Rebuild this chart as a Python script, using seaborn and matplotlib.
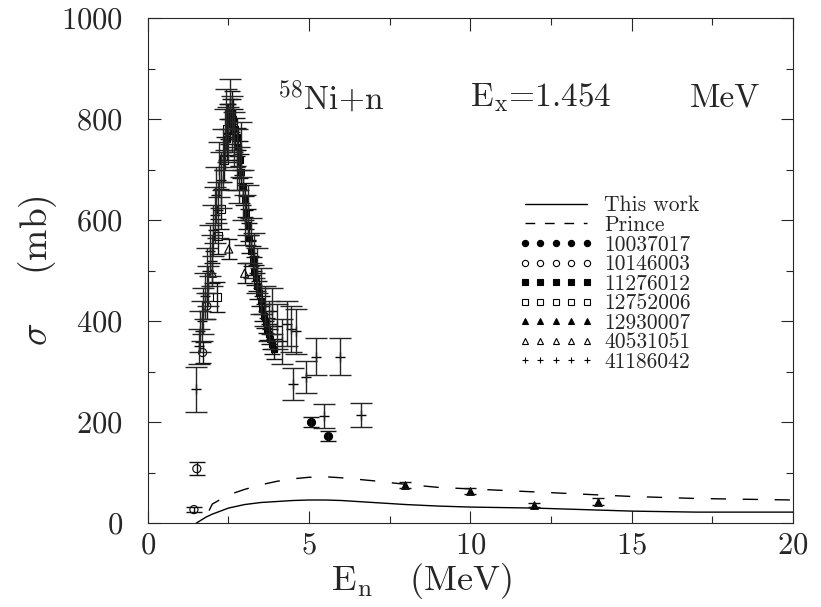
import numpy as np
import pandas as pd
import seaborn as sns
import matplotlib.pyplot as plt
from matplotlib.lines import Line2D
from matplotlib.ticker import MultipleLocator

# theory curves
this_work_e = [1.5, 1.8, 2.0, 2.5, 3.0, 3.5, 4.0, 4.5, 5.0, 5.5, 6.0, 7.0, 8.0, 9.0,
               10.0, 11.0, 12.0, 13.0, 14.0, 15.0, 16.0, 17.0, 18.0, 19.0, 20.0]
this_work_s = [0, 12, 18, 30, 37, 41, 43, 45, 46, 46, 45, 41, 37, 34,
               32, 31, 30, 28, 26, 24, 23, 22, 22, 22, 22]
prince_e = [1.9, 2.0, 2.5, 3.0, 3.5, 4.0, 4.5, 5.0, 5.5, 6.0, 7.0, 8.0, 9.0,
            10.0, 11.0, 12.0, 13.0, 14.0, 15.0, 16.0, 17.0, 18.0, 19.0, 20.0]
prince_s = [25, 38, 56, 67, 76, 83, 88, 91, 92, 90, 84, 77, 71,
            68, 65, 62, 59, 56, 53, 51, 49, 48, 47, 46]

# experimental sets (EXFOR entries)
e_10037017 = [5.05, 5.6]
s_10037017 = [201, 172]
d_10037017 = [10, 10]

e_10146003 = [1.43, 1.52, 1.70, 1.83]
s_10146003 = [27, 108, 338, 430]
d_10146003 = [5, 13, 20, 25]

e_11276012 = [2.45, 2.50, 2.55, 2.60, 2.65, 2.70, 2.75, 2.80, 2.85, 2.90, 2.95, 3.00,
              3.05, 3.10, 3.15, 3.20, 3.25, 3.30, 3.35, 3.40, 3.45, 3.50, 3.55, 3.60,
              3.65, 3.70, 3.75, 3.80, 3.85, 3.90]
s_11276012 = [760, 790, 800, 815, 800, 780, 765, 745, 720, 695, 665, 640,
              615, 590, 565, 540, 520, 500, 485, 470, 455, 440, 425, 410,
              398, 385, 375, 365, 355, 345]
d_11276012 = [40, 40, 40, 40, 40, 40, 38, 38, 36, 36, 34, 34,
              32, 32, 30, 30, 28, 28, 26, 26, 25, 25, 24, 24,
              22, 22, 20, 20, 20, 20]

e_12752006 = [2.14, 2.17, 2.26, 2.35, 2.45]
s_12752006 = [448, 568, 622, 720, 780]
d_12752006 = [30, 35, 40, 45, 50]

e_12930007 = [7.97, 10.0, 11.97, 13.95]
s_12930007 = [75, 63, 37, 43]
d_12930007 = [6, 6, 4, 6]

e_40531051 = [2.0, 2.51, 3.0]
s_40531051 = [495, 543, 495]
d_40531051 = [20, 20, 20]

e_41186042 = [1.49, 1.58, 1.62, 1.68, 1.72, 1.78, 1.82, 1.88, 1.92, 1.98, 2.02, 2.08,
              2.12, 2.18, 2.22, 2.28, 2.32, 2.38, 2.42, 2.48, 2.55, 2.62, 2.68, 2.75,
              2.82, 2.88, 2.95, 3.02, 3.10, 3.20, 3.30, 3.40, 3.50, 3.62, 3.75, 3.85,
              4.00, 4.15, 4.30, 4.45, 4.60, 4.50, 4.90, 5.20, 5.95, 5.45, 6.60]
s_41186042 = [265, 350, 380, 400, 420, 450, 500, 470, 540, 520, 580, 610,
              650, 620, 700, 680, 720, 760, 800, 770, 830, 790, 760, 720,
              690, 740, 650, 600, 620, 560, 530, 500, 460, 430, 400, 420,
              390, 360, 395, 385, 380, 276, 290, 330, 330, 213, 215]
d_41186042 = [45, 35, 40, 40, 45, 45, 45, 40, 50, 50, 50, 55,
              55, 55, 55, 55, 60, 60, 60, 55, 50, 55, 55, 60,
              55, 55, 50, 50, 50, 45, 45, 45, 45, 40, 40, 45,
              45, 45, 45, 45, 45, 31, 32, 37, 37, 24, 24]

sets = [
    ("10037017", e_10037017, s_10037017, d_10037017, "o", "k", 6, 34),
    ("10146003", e_10146003, s_10146003, d_10146003, "o", "none", 6, 34),
    ("11276012", e_11276012, s_11276012, d_11276012, "s", "k", 6, 18),
    ("12752006", e_12752006, s_12752006, d_12752006, "s", "none", 6, 34),
    ("12930007", e_12930007, s_12930007, d_12930007, "^", "k", 4, 30),
    ("40531051", e_40531051, s_40531051, d_40531051, "^", "none", 6, 34),
    ("41186042", e_41186042, s_41186042, d_41186042, "+", "k", 8, 50),
]

sns.set_style("ticks")
plt.rcParams["font.family"] = ["cmr10", "DejaVu Serif"]
plt.rcParams["mathtext.fontset"] = "cm"
plt.rcParams["axes.formatter.use_mathtext"] = True
plt.rcParams["axes.unicode_minus"] = False

fig = plt.figure(figsize=(8.21, 6.07), dpi=100)
ax = fig.add_axes([0.180, 0.138, 0.786, 0.832])

sns.lineplot(x=this_work_e, y=this_work_s, ax=ax, color="k", lw=1.0, estimator=None)
sns.lineplot(x=prince_e, y=prince_s, ax=ax, color="k", lw=1.0, estimator=None,
             dashes=False).lines[-1].set_dashes((11, 12))

for name, e, s, d, mk, fc, cap, ms in sets:
    ecol = "#262626" if mk == "+" else "#111111"
    ax.errorbar(e, s, yerr=d, fmt="none", ecolor=ecol, elinewidth=1.0,
                capsize=cap, capthick=1.0)
    df = pd.DataFrame({"E": e, "sigma": s})
    if mk == "+":
        sns.scatterplot(data=df, x="E", y="sigma", ax=ax, marker="+", color="k",
                        s=ms, linewidth=1.0)
    else:
        sns.scatterplot(data=df, x="E", y="sigma", ax=ax, marker=mk,
                        facecolor=fc, edgecolor="k", s=ms, linewidth=0.8)

ax.set_xlim(0, 20)
ax.set_ylim(0, 1000)
ax.xaxis.set_major_locator(MultipleLocator(5))
ax.xaxis.set_minor_locator(MultipleLocator(2.5))
ax.yaxis.set_major_locator(MultipleLocator(200))
ax.yaxis.set_minor_locator(MultipleLocator(100))
ax.tick_params(which="both", direction="in", top=True, right=True, width=0.8,
               labelsize=22)
ax.tick_params(axis="y", pad=18)
ax.tick_params(axis="x", pad=6)
ax.tick_params(which="major", length=9)
ax.tick_params(which="minor", length=5)
for sp in ax.spines.values():
    sp.set_linewidth(0.8)

ax.set_xlabel(r"E$_{\rm n}$   (MeV)", fontsize=26)
ax.set_ylabel(r"$\sigma$    (mb)", fontsize=27)
ax.xaxis.set_label_coords(0.425, -0.075)
ax.yaxis.set_label_coords(-0.138, 0.5)

ax.text(4.0, 843, r"$^{58}$Ni+n", fontsize=24, va="center", ha="left")
ax.text(10.0, 843, r"E$_{\rm x}$=1.454", fontsize=24, va="center", ha="left")
ax.text(16.8, 843, "MeV", fontsize=24, va="center", ha="left")

handles = [
    Line2D([], [], color="k", lw=1.0),
    Line2D([], [], color="k", lw=1.0, dashes=(7, 7)),
]
for name, e, s, d, mk, fc, cap, ms in sets:
    handles.append(Line2D([], [], ls="none", marker=mk, markersize=4.5,
                          markerfacecolor=fc, markeredgecolor="k",
                          markeredgewidth=0.8, color="k"))
labels = ["This work", "Prince"] + [x[0] for x in sets]
ax.legend(handles, labels, loc="upper left", bbox_to_anchor=(0.574, 0.648),
          frameon=False, numpoints=5, fontsize=15.5, handlelength=3.5,
          handletextpad=0.5, labelspacing=0.0, borderpad=0, borderaxespad=0)

fig.savefig("out.png", dpi=100)
